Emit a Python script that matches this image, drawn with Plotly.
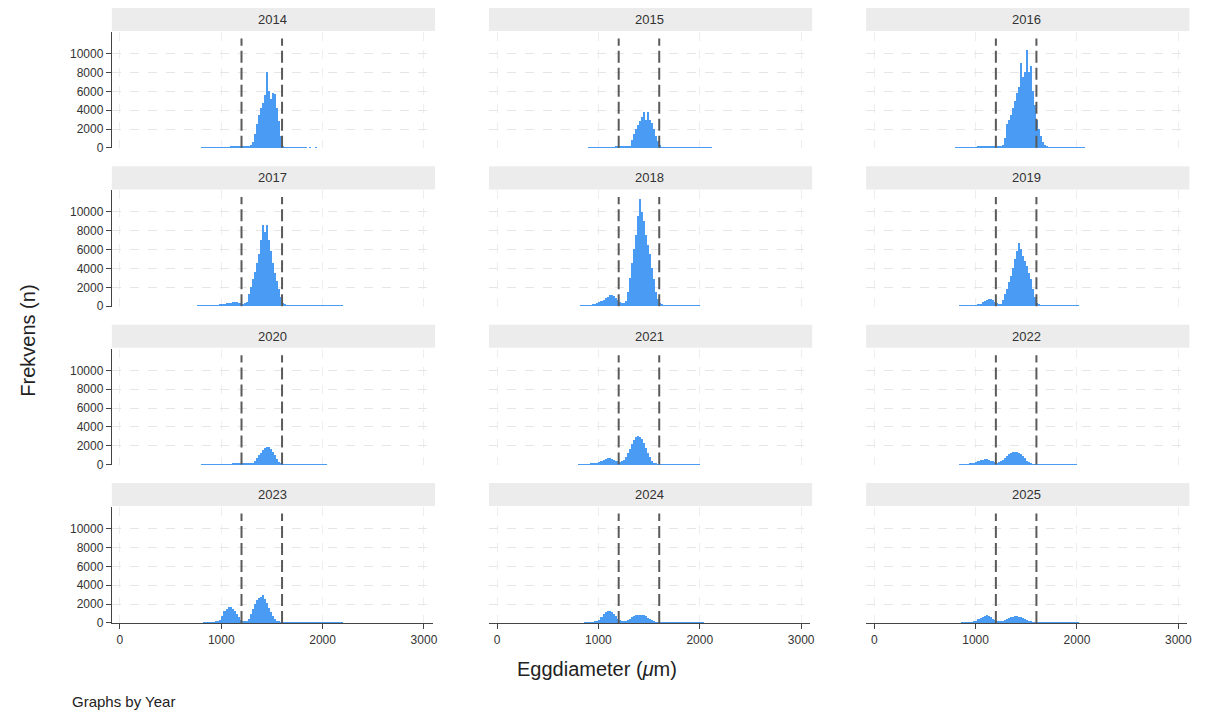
import plotly.graph_objects as go
from plotly.subplots import make_subplots

# ---------------- data ----------------
years = [2014, 2015, 2016, 2017, 2018, 2019, 2020, 2021, 2022, 2023, 2024, 2025]
bin_width = 20
bin_left = [760 + 20 * i for i in range(72)]  # 760 ... 2180 (bin left edges, µm)

cut_low = 1200
cut_high = 1600

x_ticks = [0, 1000, 2000, 3000]
x_ticktext = ["0", "1000", "2000", "3000"]
y_ticks = [0, 2000, 4000, 6000, 8000, 10000]
y_ticktext = ["0", "2000", "4000", "6000", "8000", "10000"]

counts_2014 = [0, 0, 40, 40, 50, 50, 50, 60, 60, 60,
               60, 70, 70, 70, 80, 80, 90, 90, 100, 100,
               100, 100, 110, 120, 150, 200, 300, 600, 1500, 2500,
               3500, 4200, 4800, 5600, 8000, 6000, 5200, 5800, 5700, 4200,
               2800, 1200, 150, 60, 40, 30, 40, 20, 60, 40,
               30, 50, 20, 30, 0, 20, 0, 0, 10, 0,
               0, 0, 0, 0, 0, 0, 0, 0, 0, 0, 0, 0]
counts_2015 = [0, 0, 0, 0, 0, 0, 0, 30, 40, 40,
               40, 40, 50, 50, 50, 60, 60, 60, 70, 80,
               100, 150, 150, 120, 100, 100, 120, 200, 800, 1500,
               2000, 2400, 2800, 3300, 3800, 3000, 3800, 3000, 2600, 2000,
               1300, 700, 250, 80, 40, 30, 20, 20, 10, 10,
               10, 10, 10, 10, 10, 30, 40, 40, 40, 40,
               40, 40, 40, 40, 30, 30, 30, 30, 0, 0, 0, 0]
counts_2016 = [0, 0, 50, 50, 60, 60, 60, 70, 70, 70,
               80, 80, 80, 90, 90, 100, 100, 100, 110, 110,
               120, 120, 130, 150, 200, 300, 1000, 2500, 3000, 3500,
               4200, 5000, 5800, 6500, 9000, 7500, 8000, 10400, 8000, 8700,
               6000, 4500, 3000, 2000, 1200, 600, 300, 150, 80, 50,
               40, 30, 30, 30, 20, 30, 30, 20, 30, 20,
               20, 20, 20, 10, 10, 10, 0, 0, 0, 0, 0, 0]
counts_2017 = [20, 20, 30, 30, 40, 40, 50, 50, 60, 70,
               80, 100, 150, 200, 250, 300, 300, 350, 350, 350,
               300, 250, 200, 250, 400, 1200, 2000, 2800, 3600, 4500,
               5500, 7000, 8600, 7800, 8600, 7000, 5800, 4500, 3500, 2600,
               1800, 900, 300, 100, 50, 40, 30, 20, 30, 40,
               50, 40, 30, 40, 50, 40, 30, 20, 30, 40,
               30, 30, 20, 20, 20, 20, 20, 20, 10, 10, 10, 10]
counts_2018 = [0, 0, 0, 30, 40, 50, 60, 70, 80, 100,
               150, 250, 350, 500, 650, 800, 950, 1100, 1150, 1000,
               800, 600, 400, 300, 300, 500, 1500, 3000, 4500, 6000,
               7500, 9500, 11300, 10000, 9000, 7500, 6500, 5500, 4000, 2800,
               1500, 700, 300, 100, 50, 30, 30, 40, 60, 80,
               80, 60, 80, 60, 40, 30, 20, 20, 20, 20,
               10, 10, 0, 0, 0, 0, 0, 0, 0, 0, 0, 0]
counts_2019 = [0, 0, 0, 0, 20, 20, 30, 30, 40, 50,
               60, 70, 80, 100, 200, 350, 500, 650, 750, 750,
               650, 450, 250, 150, 200, 600, 1200, 1800, 2500, 3200,
               4000, 5000, 5800, 6700, 6000, 5300, 4800, 4200, 3500, 2800,
               1800, 900, 300, 100, 50, 40, 30, 30, 30, 30,
               30, 30, 30, 30, 30, 30, 30, 20, 20, 20,
               20, 10, 10, 0, 0, 0, 0, 0, 0, 0, 0, 0]
counts_2020 = [0, 0, 20, 20, 30, 30, 30, 40, 40, 40,
               40, 50, 50, 60, 60, 70, 80, 90, 100, 110,
               120, 130, 130, 140, 150, 160, 180, 200, 400, 700,
               1000, 1300, 1600, 1800, 1900, 1850, 1700, 1400, 1000, 600,
               300, 120, 50, 40, 30, 30, 20, 20, 20, 20,
               20, 20, 20, 20, 20, 20, 20, 20, 10, 10,
               10, 10, 10, 10, 0, 0, 0, 0, 0, 0, 0, 0]
counts_2021 = [0, 0, 30, 40, 50, 60, 70, 80, 100, 120,
               150, 200, 300, 400, 500, 600, 700, 700, 650, 550,
               450, 350, 300, 350, 500, 800, 1200, 1700, 2200, 2600,
               2900, 3100, 3000, 2700, 2300, 1800, 1300, 800, 450, 200,
               100, 50, 30, 30, 20, 20, 20, 20, 20, 20,
               20, 20, 20, 10, 10, 10, 10, 10, 10, 10,
               10, 10, 0, 0, 0, 0, 0, 0, 0, 0, 0, 0]
counts_2022 = [0, 0, 0, 0, 30, 40, 50, 60, 80, 100,
               150, 200, 300, 400, 500, 550, 600, 600, 550, 450,
               350, 250, 200, 250, 350, 500, 700, 900, 1100, 1250,
               1350, 1400, 1380, 1300, 1150, 950, 700, 450, 250, 120,
               60, 40, 40, 40, 40, 40, 40, 40, 40, 40,
               40, 40, 40, 40, 40, 40, 30, 30, 20, 20,
               10, 10, 0, 0, 0, 0, 0, 0, 0, 0, 0, 0]
counts_2023 = [0, 0, 0, 20, 30, 40, 50, 60, 80, 100,
               150, 300, 700, 1200, 1500, 1650, 1700, 1500, 1200, 900,
               600, 300, 150, 100, 150, 400, 900, 1500, 2000, 2400,
               2600, 2700, 2900, 2500, 2100, 1600, 1100, 700, 400, 200,
               100, 50, 30, 30, 30, 30, 30, 30, 30, 20,
               20, 20, 20, 20, 20, 20, 20, 20, 20, 20,
               20, 20, 20, 20, 20, 20, 20, 20, 20, 20, 20, 20]
counts_2024 = [0, 0, 0, 0, 0, 20, 30, 40, 50, 70,
               100, 150, 300, 600, 900, 1100, 1200, 1250, 1100, 900,
               700, 450, 250, 150, 150, 200, 300, 450, 600, 700,
               800, 850, 850, 820, 780, 700, 550, 400, 250, 150,
               80, 40, 20, 20, 20, 20, 20, 20, 20, 20,
               20, 20, 20, 20, 20, 20, 20, 10, 10, 10,
               10, 10, 10, 10, 0, 0, 0, 0, 0, 0, 0, 0]
counts_2025 = [0, 0, 0, 0, 0, 20, 30, 40, 50, 60,
               80, 120, 200, 350, 500, 650, 750, 800, 750, 600,
               450, 300, 200, 150, 150, 200, 300, 400, 500, 600,
               650, 700, 700, 650, 600, 500, 400, 300, 200, 100,
               60, 30, 20, 20, 20, 20, 20, 20, 20, 20,
               20, 20, 20, 20, 20, 20, 20, 10, 10, 10,
               10, 10, 10, 0, 0, 0, 0, 0, 0, 0, 0, 0]

counts = [counts_2014, counts_2015, counts_2016, counts_2017, counts_2018, counts_2019,
          counts_2020, counts_2021, counts_2022, counts_2023, counts_2024, counts_2025]

# ---------------- layout geometry ----------------
# target positions are given in screen pixels; convert to figure pixels
OFF = 8
SX, SY = 0.998, 0.988


def fx(px):
    return (px - OFF) / SX


def fy(py):
    return (py - OFF) / SY


W, H = 1200, 715
col_left_px = [112, 490, 868]
col_width_px = 322
row_top_px = 32
row_h_px = 116
row_step_px = 158
strip_h_px = 23

bar_color = "#4a9bf3"
font_family = "Liberation Sans, Arial, Helvetica, sans-serif"

fig = make_subplots(rows=4, cols=3)

centers = [b + bin_width / 2 for b in bin_left]

for i, yr in enumerate(years):
    r = i // 3 + 1
    c = i % 3 + 1
    fig.add_trace(go.Bar(x=centers, y=counts[i], width=bin_width,
                         marker=dict(color=bar_color, line=dict(width=0)),
                         showlegend=False, hoverinfo="x+y"), row=r, col=c)

annotations = []
shapes = []
for i, yr in enumerate(years):
    r = i // 3 + 1
    c = i % 3 + 1
    n = i + 1
    xa = "xaxis" if n == 1 else f"xaxis{n}"
    ya = "yaxis" if n == 1 else f"yaxis{n}"
    xref = "x" if n == 1 else f"x{n}"
    yref = "y" if n == 1 else f"y{n}"
    left = fx(col_left_px[c - 1])
    right = fx(col_left_px[c - 1] + col_width_px)
    top_px = row_top_px + row_step_px * (r - 1)
    top = fy(top_px)
    bot = fy(top_px + row_h_px)
    fig.layout[xa].update(
        domain=[left / W, right / W],
        range=[-80, 3090],
        tickvals=x_ticks, ticktext=x_ticktext,
        showticklabels=(r == 4),
        ticks="outside" if r == 4 else "",
        ticklen=5, tickcolor="#444",
        showline=(r == 4), linecolor="#444", linewidth=1,
        showgrid=True, gridcolor="#eeeeee", gridwidth=1, griddash="dash",
        zeroline=False,
        tickfont=dict(size=12, color="#333", family=font_family),
        fixedrange=True,
    )
    fig.layout[ya].update(
        domain=[1 - bot / H, 1 - top / H],
        range=[-50, 12290],
        tickvals=y_ticks, ticktext=y_ticktext,
        showticklabels=(c == 1),
        ticks="outside" if c == 1 else "",
        ticklen=5, tickcolor="#444",
        showline=(c == 1), linecolor="#444", linewidth=1,
        showgrid=True, gridcolor="#e6e6e6", gridwidth=1, griddash="dash",
        zeroline=False,
        tickfont=dict(size=12, color="#333", family=font_family),
        fixedrange=True,
    )
    # strip header
    s_top = fy(top_px - strip_h_px - 1)
    s_bot = fy(top_px - 1)
    shapes.append(dict(type="rect", xref="paper", yref="paper",
                       x0=left / W, x1=(right + 2) / W,
                       y0=1 - s_bot / H, y1=1 - s_top / H,
                       fillcolor="#ececec", line=dict(width=0), layer="below"))
    annotations.append(dict(text=str(yr), xref="paper", yref="paper",
                            x=(left + right) / 2 / W, y=1 - (s_top + s_bot) / 2 / H,
                            showarrow=False, xanchor="center", yanchor="middle",
                            font=dict(size=13, color="#333", family=font_family)))
    # cut-off lines
    for xv in (cut_low, cut_high):
        shapes.append(dict(type="line", xref=xref, yref=yref,
                           x0=xv, x1=xv, y0=0, y1=11600,
                           line=dict(color="#5a5a5a", width=2, dash="12px,5px")))

annotations.append(dict(text="Frekvens (n)", xref="paper", yref="paper",
                        x=fx(28) / W, y=1 - fy(340) / H, showarrow=False, textangle=-90,
                        xanchor="center", yanchor="middle",
                        font=dict(size=20, color="#222", family=font_family)))
annotations.append(dict(text="Eggdiameter (<i>μ</i>m)", xref="paper", yref="paper",
                        x=fx(598) / W, y=1 - fy(668) / H, showarrow=False,
                        xanchor="center", yanchor="middle",
                        font=dict(size=20, color="#222", family=font_family)))
annotations.append(dict(text="Graphs by Year", xref="paper", yref="paper",
                        x=fx(70) / W, y=1 - fy(700) / H, showarrow=False,
                        xanchor="left", yanchor="middle",
                        font=dict(size=15, color="#222", family=font_family)))

fig.update_layout(
    width=W, height=H,
    margin=dict(l=0, r=0, t=0, b=0),
    paper_bgcolor="white", plot_bgcolor="white",
    bargap=0, barmode="overlay",
    annotations=annotations, shapes=shapes,
    font=dict(family=font_family),
    showlegend=False,
)

fig.write_html("out.html")
